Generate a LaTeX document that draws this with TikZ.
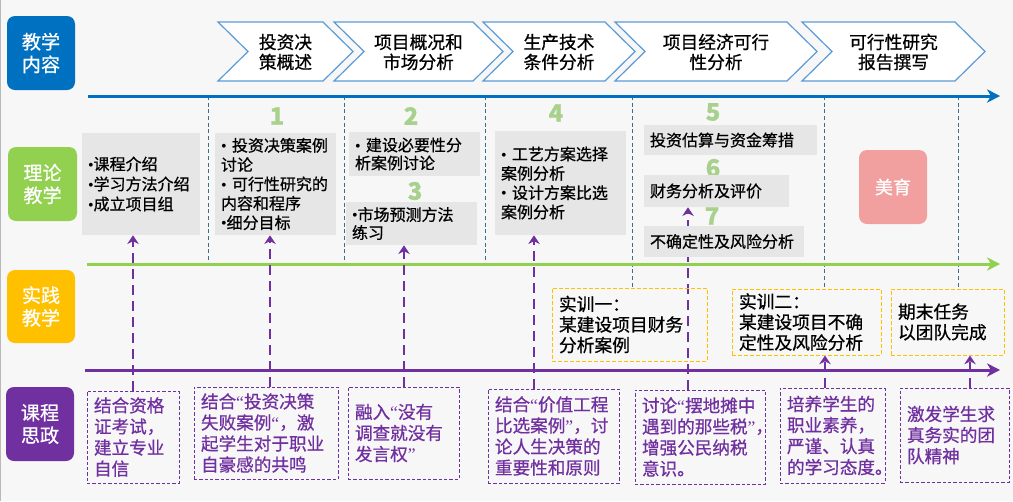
\documentclass[tikz,border=0pt]{standalone}
\usepackage{fontspec}
\setmainfont{Noto Sans CJK SC}[FakeBold=0.7]
\newfontfamily\latinf{Liberation Serif}
\newcommand\bul{{\latinf •}}
\newcommand\myoq{{\latinf “}}
\newcommand\mycq{{\latinf ”}}
\usetikzlibrary{arrows.meta}
\definecolor{bgc}{HTML}{F7F7F7}
\definecolor{lblue}{HTML}{0070C0}
\definecolor{lgreen}{HTML}{92D050}
\definecolor{lyellow}{HTML}{FFC000}
\definecolor{lpurple}{HTML}{7030A0}
\definecolor{lpink}{HTML}{F1A09F}
\definecolor{boxgray}{HTML}{E6E6E6}
\definecolor{vdash}{HTML}{3E6E85}
\definecolor{chevb}{HTML}{5B9BD5}
\definecolor{numg}{HTML}{A9D18E}
\definecolor{ptext}{HTML}{7030A0}
\pgfdeclarelayer{bg}\pgfdeclarelayer{mid}
\pgfsetlayers{bg,mid,main}
\newcommand\mychev[4]{%
  \draw[chev] (#2,22) -- (#3,22) -- ({#3+30},51.5) -- (#3,81) -- (#2,81) -- ({#2+30},51.5) -- cycle;
  \node[ctext] (#1) at ({(#2+#3+30)/2},52) {#4};}
\begin{document}
\begin{tikzpicture}[x=0.75pt,y=-0.75pt,
  lbox/.style={rounded corners=6pt, text=white, align=center, inner sep=0pt,
    font=\fontsize{14.3}{17}\selectfont},
  chev/.style={draw=chevb, line width=0.9pt, fill=white},
  ctext/.style={align=center, text=black, font=\fontsize{13.3}{15}\selectfont},
  num/.style={text=numg, font=\fontsize{18}{18}\selectfont\bfseries, inner sep=0pt},
  gbox/.style={fill=boxgray, inner xsep=4.5pt, inner ysep=0pt, align=left, text=black,
    font=\fontsize{12}{14.5}\selectfont},
  ybox/.style={draw=lyellow, dash pattern=on 3pt off 1.5pt, line width=0.75pt, inner xsep=5.25pt,
    inner ysep=0pt, align=left, text=black, font=\fontsize{13.3}{15.4}\selectfont},
  pbox/.style={draw=lpurple, dash pattern=on 2.5pt off 1.5pt, line width=0.75pt, inner xsep=5.25pt,
    inner ysep=0pt, align=left, text=ptext, font=\fontsize{13.2}{15.8}\selectfont},
  hline/.style={line width=2.25pt},
  vline/.style={draw=vdash, line width=0.75pt, dash pattern=on 3pt off 2pt},
  parr/.style={draw=lpurple, line width=1.9pt, dash pattern=on 7.5pt off 4.5pt,
    -{Stealth[length=6.5pt,width=8.5pt]}},
]
\useasboundingbox (0,0) rectangle (1013,501);
\begin{pgfonlayer}{bg}
  \fill[bgc] (0,0) rectangle (1013,501);
  \draw[gray!55, line width=0.75pt] (0.5,0) -- (0.5,501);
\end{pgfonlayer}

% left labels
\node[lbox, fill=lblue, minimum width=51pt, minimum height=55.5pt] (l1) at (41,53) {教学\\内容};
\node[lbox, fill=lgreen, minimum width=51.75pt, minimum height=55.5pt] (l2) at (42.5,184) {理论\\教学};
\node[lbox, fill=lyellow, minimum width=51pt, minimum height=54.75pt] (l3) at (41,306.5) {实践\\教学};
\node[lbox, fill=lpurple, minimum width=51pt, minimum height=55.5pt] (l4) at (40,424) {课程\\思政};

% chevrons
\mychev{c1}{218}{323}{投资决\\策概述}
\mychev{c2}{334}{473}{项目概况和\\市场分析}
\mychev{c3}{483}{605}{生产技术\\条件分析}
\mychev{c4}{615}{787}{项目经济可行\\性分析}
\mychev{c5}{802}{955}{可行性研究\\报告撰写}

% numbers
\node[num] (n1) at (277,116) {1};
\node[num] (n2) at (411,116) {2};
\node[num] (n3) at (415,191) {3};
\node[num] (n4) at (556,113) {4};
\node[num] (n5) at (713,112) {5};
\node[num] (n6) at (713,168) {6};
\node[num] (n7) at (712,216) {7};

% theory boxes
\node[gbox, text width=79.5pt, minimum height=76.5pt, font=\fontsize{12}{15}\selectfont] (A) at (141,184) {\bul 课程介绍\\\bul 学习方法介绍\\\bul 成立项目组};
\node[gbox, text width=81.75pt, minimum height=76.5pt] (B) at (275.5,184) {\bul~投资决策案例\\讨论\\\bul~可行性研究的\\内容和程序\\\bul 细分目标};
\node[gbox, text width=89.25pt, minimum height=33pt, font=\fontsize{12}{13.5}\selectfont] (C) at (414.5,154) {\bul~建设必要性分\\析案例讨论};
\node[gbox, text width=89.25pt, minimum height=32.25pt, font=\fontsize{12}{13.5}\selectfont] (D) at (411.5,223.5) {\bul 市场预测方法\\练习};
\node[gbox, text width=89.25pt, minimum height=78pt] (E) at (560.5,183) {\bul~工艺方案选择\\案例分析\\\bul~设计方案比选\\案例分析};
\node[gbox, text width=120.75pt, minimum height=22.5pt] (F) at (730.5,140) {投资估算与资金筹措};
\node[gbox, text width=99.75pt, minimum height=24pt] (G) at (716.5,191) {财务分析及评价};
\node[gbox, text width=111pt, minimum height=23.25pt] (H) at (724,241.5) {不确定性及风险分析};
\node[lbox, fill=lpink, minimum width=51pt, minimum height=55.5pt, font=\fontsize{13.5}{16}\selectfont] (my) at (893,187) {美育};

% practice boxes
\node[ybox, text width=105.75pt, minimum height=54.75pt] (s1) at (629.5,324.5) {实训一：\\某建设项目财务\\分析案例};
\node[ybox, text width=101.25pt, minimum height=49.5pt] (s2) at (806.5,322) {实训二：\\某建设项目不确\\定性及风险分析};
\node[ybox, text width=74.25pt, minimum height=49.5pt] (s3) at (947.5,322) {期末任务\\以团队完成};

% ideology boxes
\node[pbox, text width=58.5pt, minimum height=69pt] (p1) at (133,437) {结合资格\\证考试，\\建立专业\\自信};
\node[pbox, text width=97.5pt, minimum height=69pt] (p2) at (266,433) {结合\myoq 投资决策\\失败案例\myoq ，激\\起学生对于职业\\自豪感的共鸣};
\node[pbox, text width=72.75pt, minimum height=69pt] (p3) at (403.5,433) {融入\myoq 没有\\调查就没有\\发言权\mycq};
\node[pbox, text width=87.75pt, minimum height=70.5pt] (p4) at (553.5,436) {结合\myoq 价值工程\\比选案例\mycq ，讨\\论人生决策的\\重要性和原则};
\node[pbox, text width=87pt, minimum height=70.5pt] (p5) at (700,437) {讨论\myoq 摆地摊中\\遇到的那些税\mycq ，\\增强公民纳税\\意识。};
\node[pbox, text width=68.25pt, minimum height=71.25pt] (p6) at (832.5,435.5) {培养学生的\\职业素养，\\严谨、认真\\的学习态度。};
\node[pbox, text width=71.25pt, minimum height=70.5pt] (p7) at (954.5,435) {激发学生求\\真务实的团\\队精神};

% coordinates
\coordinate (bl0) at (88,96);  \coordinate (bl1) at (1000,96);
\coordinate (gl0) at (87,264); \coordinate (gl1) at (1000,264);
\coordinate (pl0) at (85,370); \coordinate (pl1) at (1000,370);
\coordinate (v1) at (208,96); \coordinate (v2) at (344,96); \coordinate (v3) at (485,96);
\coordinate (v4) at (632,96); \coordinate (v5) at (824,96); \coordinate (v6) at (958,96);
\coordinate (ax1) at (133,0); \coordinate (ax2) at (270,0); \coordinate (ax3) at (404,0);
\coordinate (ax4) at (534,0); \coordinate (ax5) at (688,0); \coordinate (ax6) at (825,0);
\coordinate (ax7) at (970,0);

\begin{pgfonlayer}{mid}
  \draw[vline] (v1) -- (v1 |- gl0);
  \draw[vline] (v2) -- (v2 |- gl0);
  \draw[vline] (v3) -- (v3 |- gl0);
  \draw[vline] (v4) -- (v4 |- s1.north);
  \draw[vline] (v5) -- (v5 |- s2.north);
  \draw[vline] (v6) -- (v6 |- s3.north);
  \draw[hline, draw=lblue, -{Stealth[length=9.75pt,width=10pt,inset=3pt]}] (bl0) -- (bl1);
  \draw[hline, draw=lgreen, -{Stealth[length=9.75pt,width=10pt,inset=3pt]}] (gl0) -- (gl1);
  \draw[hline, draw=lpurple, -{Stealth[length=9.75pt,width=10pt,inset=3pt]}] (pl0) -- (pl1);
  \draw[parr] (p1.north -| ax1) -- (A.south -| ax1);
  \draw[parr] (p2.north -| ax2) -- (B.south -| ax2);
  \draw[parr] (p3.north -| ax3) -- (D.south -| ax3);
  \draw[parr] (p4.north -| ax4) -- (E.south -| ax4);
  \draw[parr] (p5.north -| ax5) -- (G.south -| ax5);
  \draw[parr] (p6.north -| ax6) -- (s2.south -| ax6);
  \draw[parr] (p7.north -| ax7) -- (s3.south -| ax7);
\end{pgfonlayer}
\end{tikzpicture}
\end{document}
